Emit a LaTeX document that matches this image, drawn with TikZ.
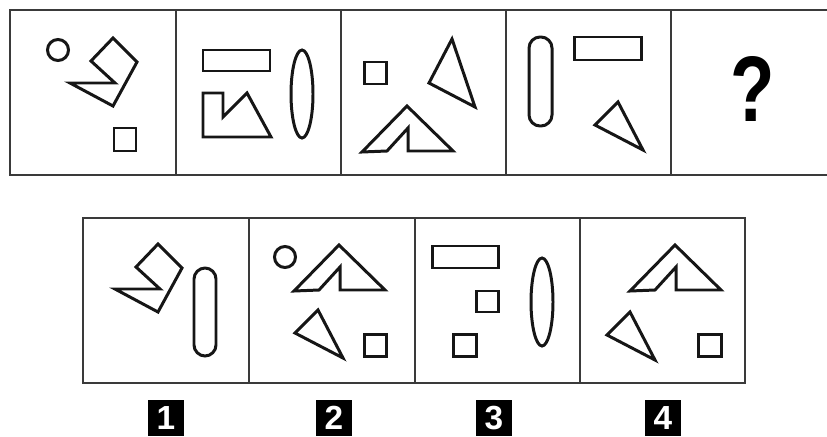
\documentclass[tikz,border=0pt]{standalone}
\usepackage{fontspec}
\setsansfont{Liberation Sans}
\usetikzlibrary{positioning}
\definecolor{ink}{HTML}{161616}
\definecolor{rule}{HTML}{3A3A3A}
\tikzset{
  frame/.style={draw=rule,line width=1.2pt},
  shp/.style={draw=ink,line width=1.7pt,line join=miter},
  numbox/.style={fill=black,text=white,font=\sffamily\bfseries\fontsize{19}{19}\selectfont,minimum size=0.72cm,inner sep=0pt}
}
% repeated figures, drawn at an offset
\newcommand{\foldfig}[1]{\draw[shp,shift={(#1)}] (113,38)--(137,62)--(113,106)--(70,83)--(115,83)--(91,61)--cycle;}
\newcommand{\notchfig}[1]{\draw[shp,shift={(#1)}] (362,152)--(407,106)--(453,151)--(408,151)--(408,128)--(387,151)--cycle;}
\newcommand{\trifig}[1]{\draw[shp,shift={(#1)}] (618,102)--(595,125)--(643,150)--cycle;}

\begin{document}
\begin{tikzpicture}[x=0.02cm,y=-0.02cm]
\useasboundingbox (0,0) rectangle (827,436);
% top row of panels
\draw[frame] (827,10)--(10,10)--(10,175)--(827,175);
\foreach \x in {176,341,506,671} \draw[frame] (\x,10)--(\x,175);
% panel 1
\draw[shp] (58,50) circle[radius=0.21cm];
\foldfig{0,0}
\draw[shp] (114,128) rectangle (136,151);
% panel 2
\draw[shp] (203,50) rectangle (270,71);
\draw[shp] (203,93)--(223,93)--(223,117)--(247,93)--(271,137)--(203,137)--cycle;
\draw[shp] (302,94) ellipse[x radius=0.22cm,y radius=0.88cm];
% panel 3
\draw[shp] (364,62) rectangle (386,84);
\notchfig{0,0}
\draw[shp] (452,39)--(429,83)--(475,107)--cycle;
% panel 4
\draw[shp,rounded corners=6.3pt] (529,37) rectangle (552,126);
\draw[shp] (574,37) rectangle (641,60);
\trifig{0,0}
% panel 5
\node[font=\sffamily\bfseries\fontsize{53}{53}\selectfont,xscale=0.78] (qmark) at (753,89) {?};
% options row
\draw[frame] (83,218) rectangle (745,383);
\foreach \x in {249,415,580} \draw[frame] (\x,218)--(\x,383);
% option 1
\foldfig{45,206}
\draw[shp,rounded corners=6.3pt] (194,268) rectangle (216,356);
% option 2
\draw[shp] (285,257) circle[radius=0.21cm];
\notchfig{-68,139}
\trifig{-300,208}
\draw[shp] (364,334) rectangle (386,356);
% option 3
\draw[shp] (432,246) rectangle (498,268);
\draw[shp] (476,291) rectangle (498,312);
\draw[shp] (453,334) rectangle (476,356);
\draw[shp] (542,302) ellipse[x radius=0.22cm,y radius=0.88cm];
% option 4
\notchfig{268,139}
\trifig{12,210}
\draw[shp] (698,334) rectangle (721,356);
% numbers
\node[numbox] (n1) at (166,418) {1};
\node[numbox] (n2) at (334,418) {2};
\node[numbox] (n3) at (494,418) {3};
\node[numbox] (n4) at (663,418) {4};
\end{tikzpicture}
\end{document}
